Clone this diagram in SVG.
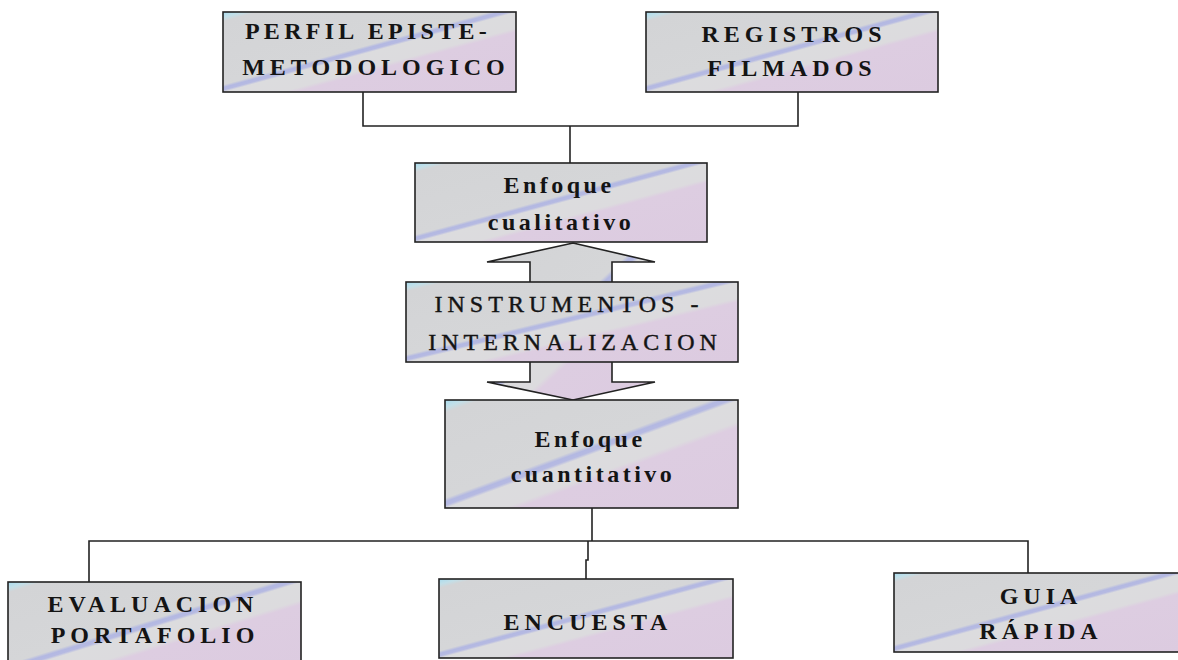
<svg xmlns="http://www.w3.org/2000/svg" width="1178" height="660" viewBox="0 0 1178 660">
<defs>
<linearGradient id="fillG" x1="0" y1="0" x2="1" y2="1">
<stop offset="0" stop-color="#a9dcee"/>
<stop offset="0.035" stop-color="#c2dfe8"/>
<stop offset="0.06" stop-color="#d3d4d6"/>
<stop offset="0.455" stop-color="#d5d6d8"/>
<stop offset="0.472" stop-color="#b3b8e2"/>
<stop offset="0.488" stop-color="#b6bae2"/>
<stop offset="0.502" stop-color="#dcdcde"/>
<stop offset="0.6" stop-color="#dcdbde"/>
<stop offset="0.625" stop-color="#ddcde1"/>
<stop offset="1" stop-color="#dccbe0"/>
</linearGradient>
<style>
.box{fill:url(#fillG);stroke:#222;stroke-width:1.6}
.con{fill:none;stroke:#222;stroke-width:1.6}
.t{font-family:"Liberation Serif","Times New Roman",serif;font-weight:bold;fill:#141414;text-anchor:middle}
.caps{font-size:24px;letter-spacing:5px}
.low{font-size:24px;letter-spacing:3.5px}
.reg{font-weight:normal;font-size:24px;letter-spacing:5px;stroke:#141414;stroke-width:0.4}
</style>
</defs>
<g id="connectors">
<polyline class="con" points="363,92 363,126 798,126 798,92"/>
<line class="con" x1="570" y1="126" x2="570" y2="163"/>
<line class="con" x1="592" y1="508" x2="592" y2="541"/>
<polyline class="con" points="89,582 89,541 1028,541 1028,573"/>
<polyline class="con" points="588,541 588,560 586,560 586,579"/>
</g>
<g id="arrow">
<polygon class="box" points="573,243 655,262 612,262 612,382 655,382 573,400 487,382 530,382 530,262 487,262"/>
</g>
<g id="perfil">
<rect class="box" x="223" y="12" width="293" height="80"/>
<text class="t caps" x="368" y="39" style="letter-spacing:4.3px">PERFIL EPISTE-</text>
<text class="t caps" x="376" y="75">METODOLOGICO</text>
</g>
<g id="registros">
<rect class="box" x="646" y="12" width="292" height="80"/>
<text class="t caps" x="794" y="42">REGISTROS</text>
<text class="t caps" x="792" y="76">FILMADOS</text>
</g>
<g id="cualitativo">
<rect class="box" x="415" y="163" width="292" height="79"/>
<text class="t low" x="559" y="193">Enfoque</text>
<text class="t low" x="561" y="230">cualitativo</text>
</g>
<g id="instrumentos">
<rect class="box" x="406" y="282" width="332" height="80"/>
<text class="t reg" x="569" y="312">INSTRUMENTOS -</text>
<text class="t reg" x="575" y="350">INTERNALIZACION</text>
</g>
<g id="cuantitativo">
<rect class="box" x="445" y="400" width="293" height="108"/>
<text class="t low" x="590" y="447">Enfoque</text>
<text class="t low" x="593" y="482">cuantitativo</text>
</g>
<g id="evaluacion">
<rect class="box" x="8" y="582" width="293" height="90"/>
<text class="t caps" x="153" y="612">EVALUACION</text>
<text class="t caps" x="155" y="643">PORTAFOLIO</text>
</g>
<g id="encuesta">
<rect class="box" x="439" y="579" width="294" height="79"/>
<text class="t caps" x="588" y="630">ENCUESTA</text>
</g>
<g id="guia">
<rect class="box" x="894" y="573" width="290" height="79"/>
<text class="t caps" x="1041" y="604">GUIA</text>
<text class="t caps" x="1041" y="639">RÁPIDA</text>
</g>
</svg>
